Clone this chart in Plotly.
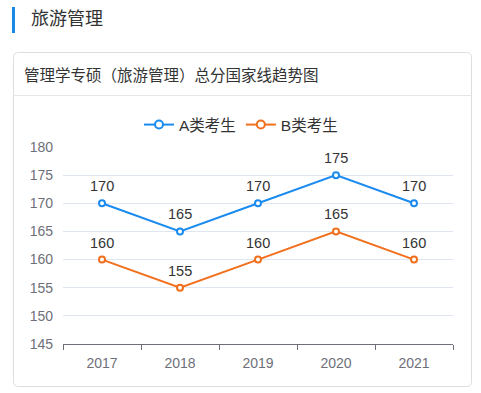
import plotly.graph_objects as go

years = ["2017", "2018", "2019", "2020", "2021"]
series_a = [170, 165, 170, 175, 170]
series_b = [160, 155, 160, 165, 160]
name_a = "A类考生"
name_b = "B类考生"
page_title = "旅游管理"
card_title = "管理学专硕（旅游管理）总分国家线趋势图"

W, H = 481, 393
L, R, T, B = 63, 453, 147, 344
BLUE = "#1b8bf0"
ORANGE = "#f26f1d"
FONT = "Liberation Sans, Noto Sans CJK SC, sans-serif"


def fx(px):
    return (px - L) / (R - L)


def fy(py):
    return (B - py) / (B - T)


fig = go.Figure()
for name, vals, col in [(name_a, series_a, BLUE), (name_b, series_b, ORANGE)]:
    fig.add_trace(go.Scatter(
        x=years, y=vals, name=name, mode="lines+markers", showlegend=False,
        legendgroup=name,
        line=dict(color=col, width=2),
        marker=dict(symbol="circle", size=6, color="white", line=dict(color=col, width=2)),
        cliponaxis=False, hoverinfo="skip",
    ))
    # legend entry (larger symbol, as in the reference legend)
    fig.add_trace(go.Scatter(
        x=[None], y=[None], name=name, mode="lines+markers", showlegend=True,
        legendgroup=name,
        line=dict(color=col, width=2),
        marker=dict(symbol="circle", size=8, color="white", line=dict(color=col, width=2)),
        hoverinfo="skip",
    ))
    for i, yv in enumerate(vals):
        fig.add_annotation(x=i, y=yv, xref="x", yref="y", text=str(yv), showarrow=False, yshift=17,
                           font=dict(size=14.5, color="#333333", family=FONT))

# card with rounded corners
cx0, cx1, cy0, cy1, rad = fx(13.5), fx(471.5), fy(52.5), fy(386.5), 5
rx, ry = rad / (R - L), rad / (B - T)
path = (f"M {cx0+rx},{cy0} L {cx1-rx},{cy0} Q {cx1},{cy0} {cx1},{cy0-ry} "
        f"L {cx1},{cy1+ry} Q {cx1},{cy1} {cx1-rx},{cy1} L {cx0+rx},{cy1} Q {cx0},{cy1} {cx0},{cy1+ry} "
        f"L {cx0},{cy0-ry} Q {cx0},{cy0} {cx0+rx},{cy0} Z")
fig.add_shape(type="path", path=path, xref="paper", yref="paper",
              line=dict(color="#dedede", width=1), fillcolor="white", layer="below")
fig.add_shape(type="line", xref="paper", yref="paper", x0=fx(13.5), x1=fx(471.5), y0=fy(95.5), y1=fy(95.5),
              line=dict(color="#e6e6e6", width=1), layer="below")
fig.add_shape(type="rect", xref="paper", yref="paper", x0=fx(12), x1=fx(15), y0=fy(7), y1=fy(33),
              line=dict(width=0), fillcolor="#1a88e8", layer="below")

fig.add_annotation(xref="paper", yref="paper", x=fx(29), y=fy(19.5), text=page_title, showarrow=False,
                   xanchor="left", yanchor="middle", font=dict(size=18, color="#333333", family=FONT))
fig.add_annotation(xref="paper", yref="paper", x=fx(22), y=fy(75), text=card_title, showarrow=False,
                   xanchor="left", yanchor="middle", font=dict(size=15.5, color="#333333", family=FONT))

fig.update_layout(
    width=W, height=H,
    margin=dict(l=L, r=W - R, t=T, b=H - B, pad=0, autoexpand=False),
    paper_bgcolor="white", plot_bgcolor="white",
    font=dict(family=FONT),
    showlegend=True,
    legend=dict(orientation="h", x=fx(241), y=fy(125),
                xanchor="center", yanchor="middle", font=dict(size=15.5, color="#333333"),
                itemwidth=30, bgcolor="rgba(0,0,0,0)"),
    xaxis=dict(type="category", categoryorder="array", categoryarray=years, range=[-0.5, 4.5],
               showline=True, linecolor="#6e7079", linewidth=1,
               ticks="outside", tickson="boundaries", ticklen=5, tickcolor="#6e7079",
               ticklabelstandoff=6,
               showgrid=False, zeroline=False, tickfont=dict(size=14, color="#6e7079"),
               tickangle=0, fixedrange=True),
    yaxis=dict(range=[145, 180], dtick=5, tick0=145, showline=False, zeroline=False,
               gridcolor="#e0e6f1", gridwidth=1, ticks="", ticklabelstandoff=9,
               tickfont=dict(size=14, color="#6e7079"),
               fixedrange=True),
)

fig.write_html("out.html", config={"displayModeBar": False},
               post_script="document.body.style.margin='0';document.body.style.overflow='hidden';")
